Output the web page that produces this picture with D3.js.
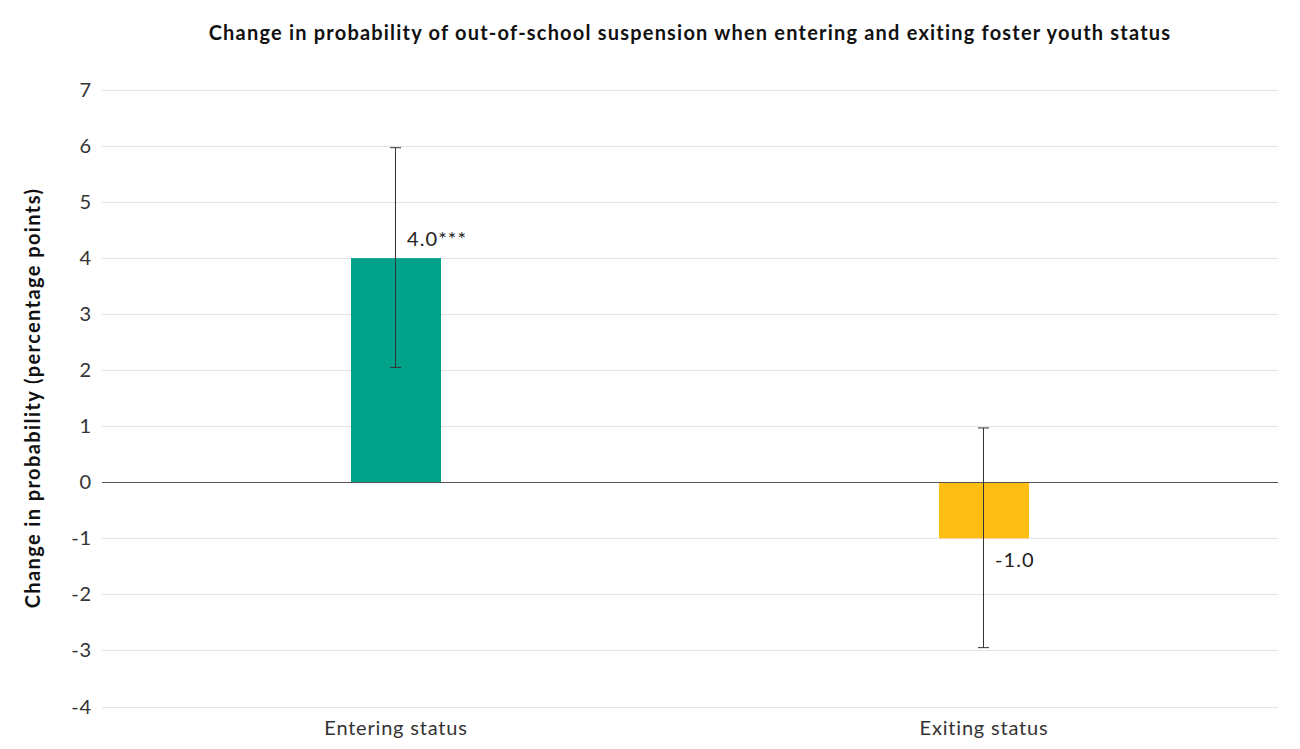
<!DOCTYPE html>
<html>
<head>
<meta charset="utf-8">
<script src="https://cdn.jsdelivr.net/npm/d3@7"></script>
<style>
    body { margin: 0; background: #fff; }
    text { font-family: Lato, "Open Sans", sans-serif; }
</style>
</head>
<body>
<svg id="chart" width="1300" height="749"></svg>
<script>
// Chart data
var categories = ["Entering status", "Exiting status"];
var values = [4.0, -1.0];
var errLow = [2.05, -2.95];
var errHigh = [5.97, 0.97];
var valueLabels = ["4.0***", "-1.0"];
var barColors = ["#00a38a", "#fdbe14"];
var yTicks = [-4, -3, -2, -1, 0, 1, 2, 3, 4, 5, 6, 7];

var svg = d3.select("#chart");
var margin = { left: 102, right: 22, top: 90, bottom: 43 };
var width = 1300 - margin.left - margin.right;
var height = 749 - margin.top - margin.bottom;

var g = svg.append("g")
    .attr("transform", "translate(" + margin.left + "," + margin.top + ")");

var x = d3.scaleBand().domain(categories).range([0, width]);
var y = d3.scaleLinear().domain([-4, 7]).range([height + 0.5, 0]);

// Gridlines
g.selectAll(".grid").data(yTicks).enter()
    .append("line")
    .attr("x1", 0).attr("x2", width)
    .attr("y1", function (d) { return Math.round(y(d)) + 0.5; })
    .attr("y2", function (d) { return Math.round(y(d)) + 0.5; })
    .attr("stroke", "#e3e3e3")
    .attr("stroke-width", 1);

// Y tick labels
g.selectAll(".ytick").data(yTicks).enter()
    .append("text")
    .attr("x", -10)
    .attr("y", function (d) { return y(d); })
    .attr("dy", "0.35em")
    .attr("text-anchor", "end")
    .style("font-size", "20px")
    .style("letter-spacing", "0.8px")
    .style("fill", "#333")
    .text(function (d) { return d; });

// Bars
var barW = 90;
g.selectAll(".bar").data(values).enter()
    .append("rect")
    .attr("x", function (d, i) { return x(categories[i]) + x.bandwidth() / 2 - barW / 2; })
    .attr("y", function (d) { return y(Math.max(0, d)); })
    .attr("width", barW)
    .attr("height", function (d) { return Math.abs(y(d) - y(0)); })
    .attr("fill", function (d, i) { return barColors[i]; });

// Zero line
g.append("line")
    .attr("x1", 0).attr("x2", width)
    .attr("y1", Math.round(y(0)) + 0.5).attr("y2", Math.round(y(0)) + 0.5)
    .attr("stroke", "#555")
    .attr("stroke-width", 1.2);

// Error bars
var capW = 11;
categories.forEach(function (c, i) {
    var cx = Math.round(x(c) + x.bandwidth() / 2) - 0.5;
    var eg = g.append("g").attr("stroke", "#333").attr("stroke-width", 1);
    eg.append("line").attr("x1", cx).attr("x2", cx).attr("y1", y(errLow[i])).attr("y2", y(errHigh[i]));
    eg.append("line").attr("x1", cx - capW / 2).attr("x2", cx + capW / 2).attr("y1", y(errLow[i])).attr("y2", y(errLow[i]));
    eg.append("line").attr("x1", cx - capW / 2).attr("x2", cx + capW / 2).attr("y1", y(errHigh[i])).attr("y2", y(errHigh[i]));
});

// Value labels
g.selectAll(".vlabel").data(values).enter()
    .append("text")
    .attr("x", function (d, i) { return x(categories[i]) + x.bandwidth() / 2 + 11; })
    .attr("y", function (d) { return d >= 0 ? y(d) - 12 : y(d) + 29; })
    .style("font-size", "20px")
    .style("letter-spacing", "1.1px")
    .style("fill", "#222")
    .text(function (d, i) { return valueLabels[i]; });

// X labels
g.selectAll(".xlabel").data(categories).enter()
    .append("text")
    .attr("x", function (d) { return x(d) + x.bandwidth() / 2; })
    .attr("y", height + 29)
    .attr("text-anchor", "middle")
    .style("font-size", "20px")
    .style("letter-spacing", "0.8px")
    .style("fill", "#333")
    .text(function (d) { return d; });

// Y axis title
svg.append("text")
    .attr("transform", "translate(40," + (margin.top + height / 2) + ") rotate(-90)")
    .attr("text-anchor", "middle")
    .style("font-size", "20px")
    .style("font-weight", "bold")
    .style("letter-spacing", "1.4px")
    .style("fill", "#111")
    .text("Change in probability (percentage points)");

// Chart title
svg.append("text")
    .attr("x", 690)
    .attr("y", 40)
    .attr("text-anchor", "middle")
    .style("font-size", "20px")
    .style("font-weight", "bold")
    .style("letter-spacing", "1.2px")
    .style("fill", "#111")
    .text("Change in probability of out-of-school suspension when entering and exiting foster youth status");
</script>
</body>
</html>
